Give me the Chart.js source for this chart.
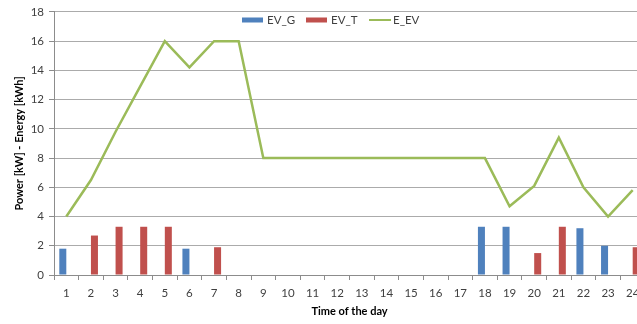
<!DOCTYPE html>
<html>
<head>
<meta charset="utf-8">
<script src="https://cdn.jsdelivr.net/npm/chart.js@4/dist/chart.umd.min.js"></script>
<style>
  html, body { margin: 0; padding: 0; background: #ffffff; overflow: hidden; }
  #wrap { width: 637px; height: 324px; overflow: hidden; position: relative; }
  canvas { display: block; }
</style>
</head>
<body>
<div id="wrap"><canvas id="c" width="660" height="324"></canvas></div>
<script>
// Hours of the day
const hours = ['1','2','3','4','5','6','7','8','9','10','11','12','13','14','15','16','17','18','19','20','21','22','23','24'];
// EV power exchanged with the grid [kW]
const evG = [1.8,0,0,0,0,1.8,0,0,0,0,0,0,0,0,0,0,0,3.3,3.3,0,0,3.2,2.0,0];
// EV power used for travel [kW]
const evT = [0,2.7,3.3,3.3,3.3,0,1.9,0,0,0,0,0,0,0,0,0,0,0,0,1.5,3.3,0,0,1.9];
// Energy stored in the EV battery [kWh]
const eEV = [4,6.5,9.8,12.9,16,14.2,16,16,8,8,8,8,8,8,8,8,8,8,4.7,6.1,9.4,6.0,4.0,5.8];
// Y axis range and step
const yMin = 0, yMax = 18, yStep = 2;

const FONT = 'Lato, "Open Sans", "DejaVu Sans", sans-serif';
const TICK_COLOR = '#404040';
const GRID_COLOR = '#ababab';

// Legend drawn inside the plot area, near its top
const innerLegend = {
  id: 'innerLegend',
  afterDraw(chart) {
    const ctx = chart.ctx;
    const y = 20;
    ctx.save();
    ctx.font = '11.5px ' + FONT;
    ctx.textBaseline = 'middle';
    ctx.textAlign = 'left';
    const items = [
      { ds: chart.data.datasets[0], x: 242, kind: 'box', w: 21 },
      { ds: chart.data.datasets[1], x: 306, kind: 'box', w: 21 },
      { ds: chart.data.datasets[2], x: 369, kind: 'line', w: 22 }
    ];
    items.forEach(it => {
      if (it.kind === 'box') {
        ctx.fillStyle = it.ds.backgroundColor;
        ctx.fillRect(it.x, y - 2.5, it.w, 5);
      } else {
        ctx.strokeStyle = it.ds.borderColor;
        ctx.lineWidth = 2;
        ctx.beginPath();
        ctx.moveTo(it.x, y);
        ctx.lineTo(it.x + it.w, y);
        ctx.stroke();
      }
      ctx.fillStyle = TICK_COLOR;
      ctx.fillText(it.ds.label, it.x + it.w + (it.kind === 'box' ? 4 : 2), y + 0.5);
    });
    ctx.restore();
  }
};

new Chart(document.getElementById('c'), {
  type: 'bar',
  data: {
    labels: hours,
    datasets: [
      { label: 'EV_G', data: evG, backgroundColor: '#4f81bd', order: 2,
        categoryPercentage: 0.57, barPercentage: 1.0 },
      { label: 'EV_T', data: evT, backgroundColor: '#c0504d', order: 2,
        categoryPercentage: 0.57, barPercentage: 1.0 },
      { label: 'E_EV', data: eEV, type: 'line', borderColor: '#9bbb59',
        backgroundColor: '#9bbb59', borderWidth: 2.5, pointRadius: 0,
        tension: 0, fill: false, order: 1 }
    ]
  },
  options: {
    responsive: false,
    animation: false,
    devicePixelRatio: 1,
    layout: { padding: { left: 0, top: 10, right: 15, bottom: 0 } },
    plugins: {
      legend: { display: false },
      tooltip: { enabled: false }
    },
    scales: {
      x: {
        offset: true,
        grid: {
          offset: true,
          drawOnChartArea: false,
          drawTicks: true,
          tickLength: 5,
          color: '#8c8c8c'
        },
        border: { display: true, color: '#8c8c8c', width: 1 },
        ticks: {
          color: TICK_COLOR,
          font: { family: FONT, size: 11.5 },
          padding: 6,
          maxRotation: 0,
          autoSkip: false
        },
        title: {
          display: true,
          text: 'Time of the day',
          color: '#000000',
          font: { family: FONT, size: 11, weight: 'bold' },
          padding: { top: 0, bottom: 6 }
        },
        afterFit(scale) { scale.height = 49; }
      },
      y: {
        min: yMin,
        max: yMax,
        ticks: {
          stepSize: yStep,
          color: TICK_COLOR,
          font: { family: FONT, size: 11.5 },
          padding: 5
        },
        grid: {
          color: GRID_COLOR,
          lineWidth: 1,
          drawTicks: true,
          tickLength: 5,
          tickColor: '#8c8c8c'
        },
        border: { display: true, color: '#8c8c8c', width: 1 },
        title: {
          display: true,
          text: 'Power [kW] - Energy [kWh]',
          color: '#000000',
          font: { family: FONT, size: 11, weight: 'bold' },
          padding: { top: 13, bottom: 0 }
        },
        afterFit(scale) { scale.width = 54; }
      }
    }
  },
  plugins: [innerLegend]
});
</script>
</body>
</html>
